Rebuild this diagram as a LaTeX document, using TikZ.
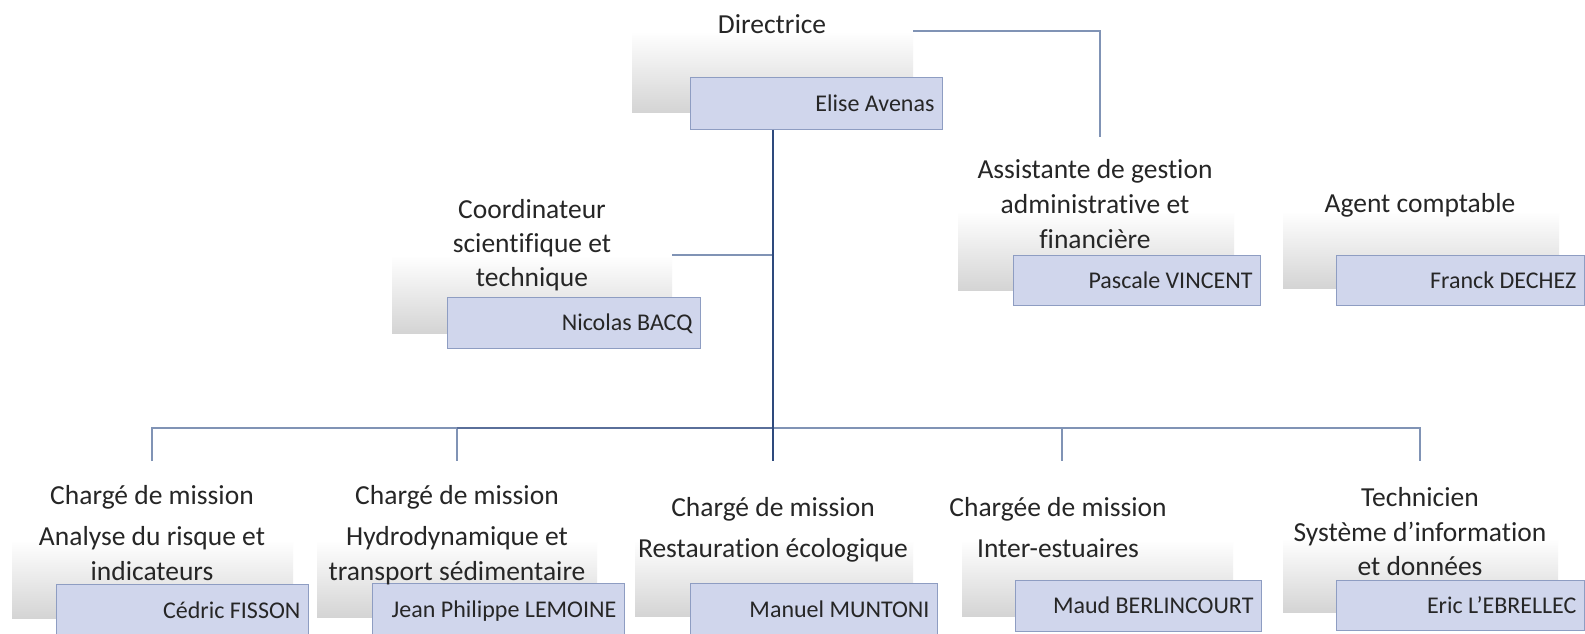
\documentclass[tikz,border=0pt]{standalone}
\usepackage{fontspec}
\setmainfont{Carlito}[Ligatures=NoCommon]
\definecolor{boxfill}{HTML}{D0D6EC}
\definecolor{boxline}{HTML}{8E9DC2}
\definecolor{greyB}{HTML}{D4D4D4}
\definecolor{connc}{HTML}{8093B5}
\definecolor{midc}{HTML}{5A6F9A}
\definecolor{trunkc}{HTML}{2E4A7D}
\definecolor{txt}{HTML}{262626}
\newcommand{\nmbox}[2]{\makebox[#1][r]{#2}}
\begin{document}
\begin{tikzpicture}[x=1pt,y=-1pt,
  greybox/.style={anchor=north west, inner sep=0pt, draw=none, top color=white, bottom color=greyB},
  gb/.style n args={2}{greybox, minimum width=#1, minimum height=#2},
  namebox/.style={anchor=north west, inner xsep=8pt, inner ysep=0pt, fill=boxfill, draw=boxline,
     line width=0.9pt, text=txt, font=\fontsize{24}{28}\selectfont, text height=19pt, text depth=3pt},
  nb/.style={namebox, minimum height=#1},
  titlebox/.style={anchor=north, inner sep=0pt, align=center, text=txt, font=\fontsize{27.5}{34}\selectfont},
  conn/.style={draw=connc, line width=1.5pt},
  midconn/.style={draw=midc, line width=1.8pt},
  trunk/.style={draw=trunkc, line width=2.4pt}
]
\useasboundingbox (0,0) rectangle (1585,633);
\fill[white] (0,0) rectangle (1585,633);

% grey title panels
\node[gb={281pt}{81pt}] (dirG) at (632,31) {};
\node[gb={280pt}{78pt}] (cooG) at (392,255) {};
\node[gb={276pt}{79pt}] (asgG) at (958,211) {};
\node[gb={276pt}{77pt}] (agtG) at (1283,211) {};
\node[gb={281pt}{78pt}] (c1G) at (12,540) {};
\node[gb={280pt}{77pt}] (c2G) at (317,540) {};
\node[gb={278pt}{76pt}] (c3G) at (635,540) {};
\node[gb={271pt}{76pt}] (c4G) at (962,540) {};
\node[gb={275pt}{74pt}] (c5G) at (1283,538) {};

% coordinates for connector ends
\coordinate (asgTop) at (1100,137);
\coordinate (busY) at (0,428);
\coordinate (dropY) at (0,461);
\coordinate (x1) at (152,0);
\coordinate (x2) at (457,0);
\coordinate (x4) at (1062,0);
\coordinate (x5) at (1420,0);

% name boxes
\node[nb={52pt}] (eliB) at (690,77) {\nmbox{236pt}{Elise Avenas}};
\node[nb={51pt}] (nicB) at (447,297) {\nmbox{237pt}{Nicolas BACQ}};
\node[nb={50pt}] (pasB) at (1013,255) {\nmbox{231pt}{Pascale VINCENT}};
\node[nb={50pt}] (fraB) at (1336,255) {\nmbox{232pt}{Franck DECHEZ}};
\node[nb={53pt}] (cedB) at (56,584) {\nmbox{236pt}{Cédric FISSON}};
\node[nb={53pt}] (jeaB) at (372,583) {\nmbox{236pt}{Jean Philippe LEMOINE}};
\node[nb={53pt}] (manB) at (690,583) {\nmbox{231pt}{Manuel MUNTONI}};
\node[nb={51pt}] (mauB) at (1015,580) {\nmbox{230pt}{Maud BERLINCOURT}};
\node[nb={50pt}] (eriB) at (1336,580) {\nmbox{232pt}{Eric L’EBRELLEC}};

% connectors
\draw[conn] (dirG.north east) -- (asgTop |- dirG.north east) -- (asgTop);
\draw[conn] (cooG.north east) -- (cooG.north east -| dirG.south);
\draw[conn] (x1 |- dropY) -- (x1 |- busY) -- (x5 |- busY) -- (x5 |- dropY);
\draw[conn] (x2 |- busY) -- (x2 |- dropY);
\draw[conn] (x4 |- busY) -- (x4 |- dropY);
\draw[midconn] (x2 |- busY) -- (dirG.south |- busY);
\draw[trunk] (dirG.south |- eliB.south) -- (dirG.south |- dropY);

% titles
\node[titlebox] (dirT) at (772,14) {Directrice};
\node[titlebox] (cooT) at (532,199) {Coordinateur\\scientifique et\\technique};
\node[titlebox] (asgT) at (1095,159) {Assistante de gestion\\[1pt]administrative et\\[1pt]financière};
\node[titlebox] (agtT) at (1420,193) {Agent comptable};
\node[titlebox] (c1T) at (152,485) {Chargé de mission\\[7pt]Analyse du risque et\\[1pt]indicateurs};
\node[titlebox] (c2T) at (457,485) {Chargé de mission\\[7pt]Hydrodynamique et\\[1pt]transport sédimentaire};
\node[titlebox] (c3T) at (773,497) {Chargé de mission\\[7pt]Restauration écologique};
\node[titlebox] (c4T) at (1058,497) {Chargée de mission\\[7pt]Inter-estuaires};
\node[titlebox] (c5T) at (1420,487) {Technicien\\[1pt]Système d’information\\[0pt]et données};
\end{tikzpicture}
\end{document}
